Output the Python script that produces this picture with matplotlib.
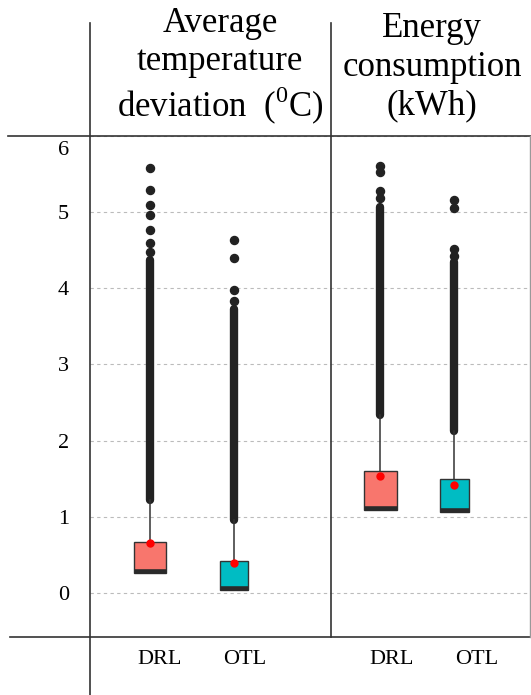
import matplotlib
matplotlib.use("Agg")
import matplotlib.pyplot as plt
from matplotlib.lines import Line2D
from matplotlib.transforms import ScaledTranslation

plt.rcParams['font.family'] = ['Liberation Serif', 'DejaVu Serif']
plt.rcParams['mathtext.fontset'] = 'custom'
plt.rcParams['mathtext.rm'] = 'Liberation Serif'

# ---- data ----
groups = ["DRL", "OTL", "DRL", "OTL"]
panel_titles = ["Average\ntemperature\ndeviation  ($^{0}$C)", "Energy\nconsumption\n(kWh)"]
q1 = [0.26, 0.04, 1.09, 1.06]
med = [0.29, 0.07, 1.12, 1.09]
q3 = [0.67, 0.42, 1.60, 1.50]
means = [0.66, 0.39, 1.53, 1.42]
whis_hi = [1.22, 0.96, 2.34, 2.12]
dense_outlier_top = [4.37, 3.73, 5.07, 4.34]
sparse_outliers = [
    [5.58, 5.29, 5.09, 4.96, 4.76, 4.59, 4.48],
    [4.63, 4.40, 3.98, 3.83],
    [5.60, 5.53, 5.28, 5.19],
    [5.16, 5.05, 4.51, 4.42],
]
yticks = [0, 1, 2, 3, 4, 5, 6]

colors = ["#F8766D", "#00BCC3", "#F8766D", "#00BCC3"]
positions = [60, 144, 290, 364]
widths = [32, 28, 33, 29]
label_pos = [70, 155, 302, 387]

W, H = 531, 695
fig = plt.figure(figsize=(W / 100, H / 100), dpi=100)
ax = fig.add_axes([90 / W, 1 - 637 / H, 440 / W, (637 - 136) / H])

stats = []
for i in range(4):
    stats.append(dict(med=med[i], q1=q1[i], q3=q3[i], mean=means[i],
                      whislo=q1[i], whishi=whis_hi[i], fliers=sparse_outliers[i]))

# dense outlier columns (overlapping points)
for i in range(4):
    ax.plot([positions[i], positions[i]], [whis_hi[i], dense_outlier_top[i]],
            color="#222222", lw=6.0, solid_capstyle="round", zorder=2)

res = ax.bxp(stats, positions=positions, widths=widths, showmeans=True,
             showcaps=False, patch_artist=True, manage_ticks=False,
             boxprops=dict(edgecolor="#333333", linewidth=1.0),
             whiskerprops=dict(color="#333333", linewidth=1.1),
             medianprops=dict(color="#2a2a2a", linewidth=3.3),
             meanprops=dict(marker="o", markerfacecolor="#FF0000",
                            markeredgecolor="#FF0000", markersize=5),
             flierprops=dict(marker="o", markerfacecolor="#222222",
                             markeredgecolor="#222222", markersize=5.8))
for b, c in zip(res["boxes"], colors):
    b.set_facecolor(c)
    b.set_zorder(3)
for m in res["medians"]:
    m.set_zorder(4)
for m in res["means"]:
    m.set_zorder(5)

ax.set_xlim(0, 440)
ax.set_ylim(-0.58, 6.0)
ax.set_yticks(yticks)
ax.set_yticklabels([str(t) for t in yticks])
ax.set_xticks(label_pos)
ax.set_xticklabels(groups)
ax.tick_params(axis="y", length=0, pad=15, labelsize=16)
ax.tick_params(axis="x", length=0, pad=9, labelsize=16)
top_lab = ax.get_yticklabels()[-1]
top_lab.set_va("top")
top_lab.set_transform(top_lab.get_transform() + ScaledTranslation(0, -0.05, fig.dpi_scale_trans))
for s in ax.spines.values():
    s.set_visible(False)
ax.yaxis.grid(True, linestyle=(0, (3, 3)), color="#bbbbbb", linewidth=0.8)
ax.set_axisbelow(True)

# table-like frame lines (figure pixel coords)
def fline(x0, y0, x1, y1, color="#333333", lw=1.2):
    fig.add_artist(Line2D([x0 / W, x1 / W], [1 - y0 / H, 1 - y1 / H],
                          color=color, lw=lw, transform=fig.transFigure))

fline(8, 136, 531, 136)
fline(10, 637, 531, 637)
fline(90, 23, 90, 695)
fline(331, 23, 331, 637)
fline(530, 136, 530, 637, color="#999999", lw=1.0)

fig.text(220 / W, 1 - 67 / H, panel_titles[0], ha="center", va="center",
         fontsize=25, linespacing=1.22)
fig.text(432 / W, 1 - 67 / H, panel_titles[1], ha="center", va="center",
         fontsize=25, linespacing=1.22)

fig.savefig("out.png", dpi=100)
